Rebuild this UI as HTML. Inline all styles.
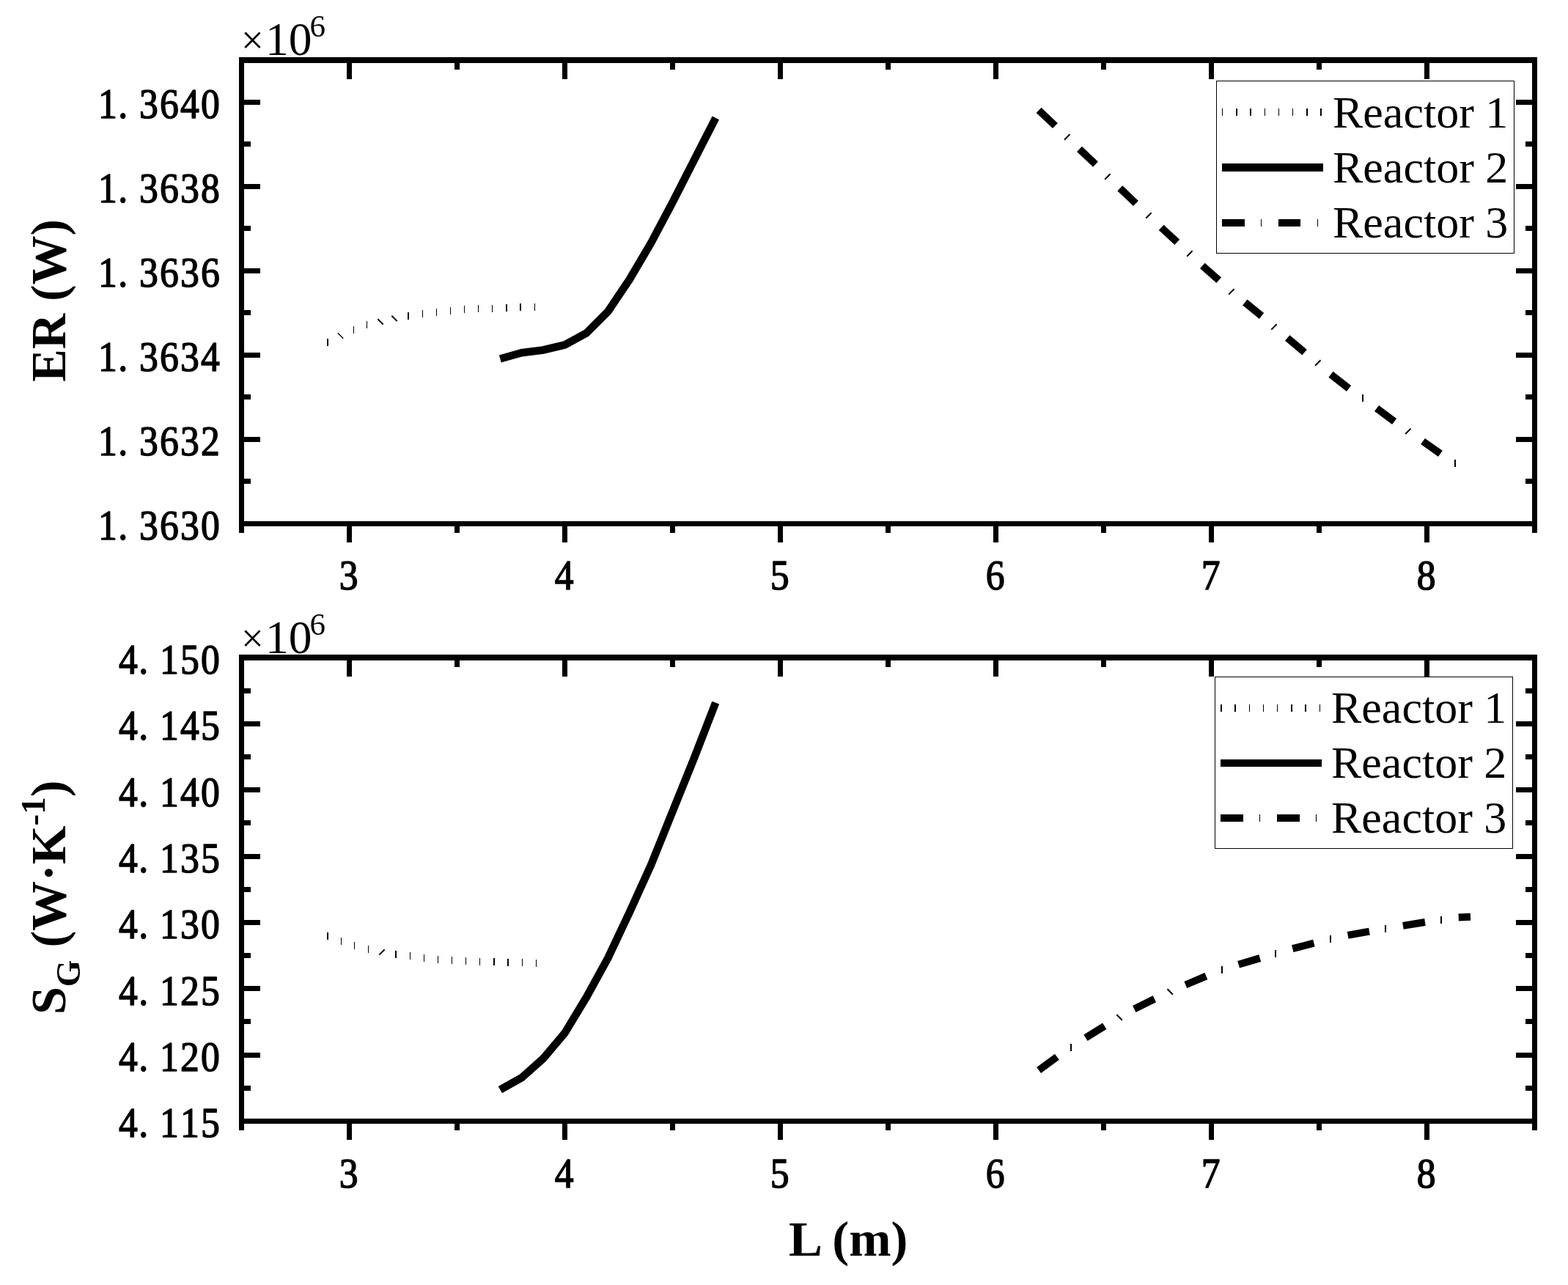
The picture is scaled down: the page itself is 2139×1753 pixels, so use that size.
<!DOCTYPE html>
<html lang="en"><head><meta charset="utf-8">
<title>ER and S_G versus L for Reactor 1, 2 and 3</title>
<style>
html,body{margin:0;padding:0;background:#fff}
body{width:2139px;height:1753px}
svg{display:block}
text{font-family:"Liberation Serif","DejaVu Serif",serif;fill:#000;white-space:pre}
.tk{font-size:58px;stroke:#000;stroke-width:1.5px;stroke-linejoin:round}
.lg{font-size:62px}
.ax{font-size:68px;font-weight:bold}
.ex{font-size:62px}
</style></head><body>
<svg width="2139" height="1753" viewBox="0 0 2139 1753">
<rect x="0" y="0" width="2139" height="1753" fill="#fff"/>
<g fill="#000">
<rect x="446" y="462" width="2" height="10" shape-rendering="crispEdges"/>
<line x1="460.8" y1="454.3" x2="468.2" y2="461.7" stroke="#000" stroke-width="1.4"/>
<rect x="482" y="445" width="1" height="10" shape-rendering="crispEdges"/>
<rect x="500" y="438" width="1" height="10" shape-rendering="crispEdges"/>
<line x1="515.3" y1="435.2" x2="522.7" y2="442.6" stroke="#000" stroke-width="2.0"/>
<line x1="534.3" y1="430.7" x2="541.7" y2="438.1" stroke="#000" stroke-width="2.0"/>
<rect x="556" y="426" width="2" height="10" shape-rendering="crispEdges"/>
<rect x="576" y="423" width="1" height="10" shape-rendering="crispEdges"/>
<rect x="595" y="421" width="1" height="10" shape-rendering="crispEdges"/>
<rect x="614" y="419" width="1" height="10" shape-rendering="crispEdges"/>
<rect x="633" y="417" width="1" height="10" shape-rendering="crispEdges"/>
<rect x="652" y="416" width="1" height="10" shape-rendering="crispEdges"/>
<rect x="671" y="416" width="1" height="10" shape-rendering="crispEdges"/>
<rect x="690" y="415" width="2" height="10" shape-rendering="crispEdges"/>
<rect x="709" y="414" width="2" height="10" shape-rendering="crispEdges"/>
<rect x="729" y="414" width="1" height="10" shape-rendering="crispEdges"/>
<polyline points="682.3,489.5 711.7,481.2 741.1,477.5 770.5,470.4 799.9,454.5 829.3,425.0 858.7,381.3 888.1,331.5 917.5,276.0 946.9,218.4 976.3,160.8" fill="none" stroke="#000" stroke-width="10.6" stroke-linejoin="miter"/>
<line x1="1417.1" y1="150.3" x2="1439.4" y2="171.5" stroke="#000" stroke-width="10"/>
<line x1="1472.5" y1="203.4" x2="1494.5" y2="224.2" stroke="#000" stroke-width="10"/>
<line x1="1527.8" y1="256.8" x2="1549.5" y2="277.5" stroke="#000" stroke-width="10"/>
<line x1="1584.1" y1="310.3" x2="1605.8" y2="330.4" stroke="#000" stroke-width="10"/>
<line x1="1640.3" y1="362.6" x2="1662.7" y2="382.3" stroke="#000" stroke-width="10"/>
<line x1="1698.3" y1="412.5" x2="1721.0" y2="431.0" stroke="#000" stroke-width="10"/>
<line x1="1756.2" y1="461.0" x2="1779.6" y2="480.7" stroke="#000" stroke-width="10"/>
<line x1="1815.5" y1="510.7" x2="1840.0" y2="530.0" stroke="#000" stroke-width="10"/>
<line x1="1878.0" y1="557.1" x2="1902.1" y2="574.9" stroke="#000" stroke-width="10"/>
<line x1="1941.0" y1="602.0" x2="1964.9" y2="618.9" stroke="#000" stroke-width="10"/>
<line x1="1452.0" y1="190.7" x2="1459.4" y2="183.3" stroke="#000" stroke-width="2.0"/>
<line x1="1507.2" y1="244.7" x2="1514.6" y2="237.3" stroke="#000" stroke-width="2.0"/>
<line x1="1563.2" y1="297.7" x2="1570.6" y2="290.3" stroke="#000" stroke-width="2.0"/>
<line x1="1619.2" y1="349.7" x2="1626.6" y2="342.3" stroke="#000" stroke-width="2.0"/>
<line x1="1676.2" y1="401.6" x2="1683.6" y2="394.2" stroke="#000" stroke-width="2.0"/>
<line x1="1734.3" y1="449.6" x2="1741.7" y2="442.2" stroke="#000" stroke-width="2.0"/>
<line x1="1794.1" y1="498.7" x2="1801.5" y2="491.3" stroke="#000" stroke-width="2.0"/>
<rect x="1858" y="538" width="2" height="10" shape-rendering="crispEdges"/>
<line x1="1917.2" y1="592.0" x2="1924.6" y2="584.6" stroke="#000" stroke-width="2.0"/>
<rect x="1984" y="627" width="2" height="10" shape-rendering="crispEdges"/>
<rect x="446" y="1272" width="2" height="10" shape-rendering="crispEdges"/>
<rect x="465" y="1279" width="1" height="10" shape-rendering="crispEdges"/>
<rect x="483" y="1285" width="1" height="10" shape-rendering="crispEdges"/>
<rect x="502" y="1290" width="1" height="10" shape-rendering="crispEdges"/>
<line x1="517.3" y1="1302.6" x2="524.7" y2="1295.2" stroke="#000" stroke-width="2.0"/>
<rect x="539" y="1297" width="2" height="10" shape-rendering="crispEdges"/>
<rect x="559" y="1299" width="1" height="10" shape-rendering="crispEdges"/>
<rect x="578" y="1302" width="1" height="10" shape-rendering="crispEdges"/>
<rect x="597" y="1304" width="1" height="10" shape-rendering="crispEdges"/>
<rect x="616" y="1305" width="1" height="10" shape-rendering="crispEdges"/>
<rect x="635" y="1306" width="1" height="10" shape-rendering="crispEdges"/>
<rect x="654" y="1307" width="1" height="10" shape-rendering="crispEdges"/>
<rect x="673" y="1307" width="2" height="10" shape-rendering="crispEdges"/>
<rect x="692" y="1308" width="2" height="10" shape-rendering="crispEdges"/>
<rect x="712" y="1308" width="1" height="10" shape-rendering="crispEdges"/>
<rect x="731" y="1309" width="1" height="10" shape-rendering="crispEdges"/>
<polyline points="682.3,1486.7 711.7,1470.2 741.1,1444.0 770.5,1409.2 799.9,1360.6 829.3,1307.0 858.7,1244.7 888.1,1180.0 917.5,1107.0 946.9,1034.3 976.2,958.6" fill="none" stroke="#000" stroke-width="10.6" stroke-linejoin="miter"/>
<line x1="1417.1" y1="1460.0" x2="1441.9" y2="1441.7" stroke="#000" stroke-width="10"/>
<line x1="1481.0" y1="1415.8" x2="1506.8" y2="1399.7" stroke="#000" stroke-width="10"/>
<line x1="1547.3" y1="1376.5" x2="1574.9" y2="1362.8" stroke="#000" stroke-width="10"/>
<line x1="1617.3" y1="1343.5" x2="1645.4" y2="1331.7" stroke="#000" stroke-width="10"/>
<line x1="1689.6" y1="1315.8" x2="1718.8" y2="1307.1" stroke="#000" stroke-width="10"/>
<line x1="1763.3" y1="1294.1" x2="1792.4" y2="1286.7" stroke="#000" stroke-width="10"/>
<line x1="1838.7" y1="1275.9" x2="1868.0" y2="1270.6" stroke="#000" stroke-width="10"/>
<line x1="1913.9" y1="1262.9" x2="1944.0" y2="1258.0" stroke="#000" stroke-width="10"/>
<line x1="1989.7" y1="1251.6" x2="2006.0" y2="1250.8" stroke="#000" stroke-width="10"/>
<rect x="1460" y="1424" width="2" height="10" shape-rendering="crispEdges"/>
<line x1="1523.4" y1="1384.3" x2="1530.8" y2="1391.7" stroke="#000" stroke-width="2.0"/>
<line x1="1592.5" y1="1349.3" x2="1599.9" y2="1356.7" stroke="#000" stroke-width="2.0"/>
<rect x="1666" y="1318" width="2" height="10" shape-rendering="crispEdges"/>
<rect x="1739" y="1296" width="2" height="10" shape-rendering="crispEdges"/>
<rect x="1814" y="1276" width="2" height="10" shape-rendering="crispEdges"/>
<rect x="1889" y="1262" width="2" height="10" shape-rendering="crispEdges"/>
<rect x="1965" y="1250" width="2" height="10" shape-rendering="crispEdges"/>
</g>
<g shape-rendering="crispEdges" fill="#000">
<rect x="326" y="78" width="7" height="649"/>
<rect x="2090" y="78" width="7" height="649"/>
<rect x="326" y="78" width="1771" height="8"/>
<rect x="326" y="711" width="1771" height="7"/>
<rect x="473" y="86" width="7" height="22"/>
<rect x="473" y="718" width="7" height="22"/>
<rect x="767" y="86" width="7" height="22"/>
<rect x="767" y="718" width="7" height="22"/>
<rect x="1061" y="86" width="7" height="22"/>
<rect x="1061" y="718" width="7" height="22"/>
<rect x="1355" y="86" width="7" height="22"/>
<rect x="1355" y="718" width="7" height="22"/>
<rect x="1649" y="86" width="7" height="22"/>
<rect x="1649" y="718" width="7" height="22"/>
<rect x="1943" y="86" width="7" height="22"/>
<rect x="1943" y="718" width="7" height="22"/>
<rect x="620" y="86" width="7" height="9"/>
<rect x="620" y="718" width="7" height="9"/>
<rect x="914" y="86" width="7" height="9"/>
<rect x="914" y="718" width="7" height="9"/>
<rect x="1208" y="86" width="7" height="9"/>
<rect x="1208" y="718" width="7" height="9"/>
<rect x="1502" y="86" width="7" height="9"/>
<rect x="1502" y="718" width="7" height="9"/>
<rect x="1796" y="86" width="7" height="9"/>
<rect x="1796" y="718" width="7" height="9"/>
<rect x="333" y="711" width="22" height="7"/>
<rect x="2068" y="711" width="22" height="7"/>
<rect x="333" y="596" width="22" height="7"/>
<rect x="2068" y="596" width="22" height="7"/>
<rect x="333" y="481" width="22" height="7"/>
<rect x="2068" y="481" width="22" height="7"/>
<rect x="333" y="366" width="22" height="7"/>
<rect x="2068" y="366" width="22" height="7"/>
<rect x="333" y="251" width="22" height="7"/>
<rect x="2068" y="251" width="22" height="7"/>
<rect x="333" y="136" width="22" height="7"/>
<rect x="2068" y="136" width="22" height="7"/>
<rect x="333" y="653" width="9" height="7"/>
<rect x="2081" y="653" width="9" height="7"/>
<rect x="333" y="538" width="9" height="7"/>
<rect x="2081" y="538" width="9" height="7"/>
<rect x="333" y="423" width="9" height="7"/>
<rect x="2081" y="423" width="9" height="7"/>
<rect x="333" y="308" width="9" height="7"/>
<rect x="2081" y="308" width="9" height="7"/>
<rect x="333" y="193" width="9" height="7"/>
<rect x="2081" y="193" width="9" height="7"/>
</g>
<g shape-rendering="crispEdges" fill="#000">
<rect x="326" y="893" width="7" height="649"/>
<rect x="2090" y="893" width="7" height="649"/>
<rect x="326" y="893" width="1771" height="8"/>
<rect x="326" y="1526" width="1771" height="7"/>
<rect x="473" y="901" width="7" height="22"/>
<rect x="473" y="1533" width="7" height="22"/>
<rect x="767" y="901" width="7" height="22"/>
<rect x="767" y="1533" width="7" height="22"/>
<rect x="1061" y="901" width="7" height="22"/>
<rect x="1061" y="1533" width="7" height="22"/>
<rect x="1355" y="901" width="7" height="22"/>
<rect x="1355" y="1533" width="7" height="22"/>
<rect x="1649" y="901" width="7" height="22"/>
<rect x="1649" y="1533" width="7" height="22"/>
<rect x="1943" y="901" width="7" height="22"/>
<rect x="1943" y="1533" width="7" height="22"/>
<rect x="620" y="901" width="7" height="9"/>
<rect x="620" y="1533" width="7" height="9"/>
<rect x="914" y="901" width="7" height="9"/>
<rect x="914" y="1533" width="7" height="9"/>
<rect x="1208" y="901" width="7" height="9"/>
<rect x="1208" y="1533" width="7" height="9"/>
<rect x="1502" y="901" width="7" height="9"/>
<rect x="1502" y="1533" width="7" height="9"/>
<rect x="1796" y="901" width="7" height="9"/>
<rect x="1796" y="1533" width="7" height="9"/>
<rect x="333" y="1526" width="22" height="7"/>
<rect x="2068" y="1526" width="22" height="7"/>
<rect x="333" y="1436" width="22" height="7"/>
<rect x="2068" y="1436" width="22" height="7"/>
<rect x="333" y="1345" width="22" height="7"/>
<rect x="2068" y="1345" width="22" height="7"/>
<rect x="333" y="1255" width="22" height="7"/>
<rect x="2068" y="1255" width="22" height="7"/>
<rect x="333" y="1165" width="22" height="7"/>
<rect x="2068" y="1165" width="22" height="7"/>
<rect x="333" y="1074" width="22" height="7"/>
<rect x="2068" y="1074" width="22" height="7"/>
<rect x="333" y="984" width="22" height="7"/>
<rect x="2068" y="984" width="22" height="7"/>
<rect x="333" y="894" width="22" height="7"/>
<rect x="2068" y="894" width="22" height="7"/>
<rect x="333" y="1481" width="9" height="7"/>
<rect x="2081" y="1481" width="9" height="7"/>
<rect x="333" y="1390" width="9" height="7"/>
<rect x="2081" y="1390" width="9" height="7"/>
<rect x="333" y="1300" width="9" height="7"/>
<rect x="2081" y="1300" width="9" height="7"/>
<rect x="333" y="1210" width="9" height="7"/>
<rect x="2081" y="1210" width="9" height="7"/>
<rect x="333" y="1119" width="9" height="7"/>
<rect x="2081" y="1119" width="9" height="7"/>
<rect x="333" y="1029" width="9" height="7"/>
<rect x="2081" y="1029" width="9" height="7"/>
<rect x="333" y="939" width="9" height="7"/>
<rect x="2081" y="939" width="9" height="7"/>
</g>
<text class="tk" transform="scale(0.89,1)" x="164.94 188.54 227.87 259.33 290.79 322.25" y="736.5" text-anchor="middle">1.3630</text>
<text class="tk" transform="scale(0.89,1)" x="164.94 188.54 227.87 259.33 290.79 322.25" y="621.5" text-anchor="middle">1.3632</text>
<text class="tk" transform="scale(0.89,1)" x="164.94 188.54 227.87 259.33 290.79 322.25" y="506.5" text-anchor="middle">1.3634</text>
<text class="tk" transform="scale(0.89,1)" x="164.94 188.54 227.87 259.33 290.79 322.25" y="391.5" text-anchor="middle">1.3636</text>
<text class="tk" transform="scale(0.89,1)" x="164.94 188.54 227.87 259.33 290.79 322.25" y="276.5" text-anchor="middle">1.3638</text>
<text class="tk" transform="scale(0.89,1)" x="164.94 188.54 227.87 259.33 290.79 322.25" y="161.5" text-anchor="middle">1.3640</text>
<text class="tk" transform="scale(0.89,1)" x="196.40 220.00 259.33 290.79 322.25" y="1551.5" text-anchor="middle">4.115</text>
<text class="tk" transform="scale(0.89,1)" x="196.40 220.00 259.33 290.79 322.25" y="1461.14" text-anchor="middle">4.120</text>
<text class="tk" transform="scale(0.89,1)" x="196.40 220.00 259.33 290.79 322.25" y="1370.79" text-anchor="middle">4.125</text>
<text class="tk" transform="scale(0.89,1)" x="196.40 220.00 259.33 290.79 322.25" y="1280.43" text-anchor="middle">4.130</text>
<text class="tk" transform="scale(0.89,1)" x="196.40 220.00 259.33 290.79 322.25" y="1190.07" text-anchor="middle">4.135</text>
<text class="tk" transform="scale(0.89,1)" x="196.40 220.00 259.33 290.79 322.25" y="1099.71" text-anchor="middle">4.140</text>
<text class="tk" transform="scale(0.89,1)" x="196.40 220.00 259.33 290.79 322.25" y="1009.36" text-anchor="middle">4.145</text>
<text class="tk" transform="scale(0.89,1)" x="196.40 220.00 259.33 290.79 322.25" y="919" text-anchor="middle">4.150</text>
<text class="tk" transform="scale(0.89,1)" x="534.38" y="804.5" text-anchor="middle">3</text>
<text class="tk" transform="scale(0.89,1)" x="534.38" y="1620.5" text-anchor="middle">3</text>
<text class="tk" transform="scale(0.89,1)" x="864.72" y="804.5" text-anchor="middle">4</text>
<text class="tk" transform="scale(0.89,1)" x="864.72" y="1620.5" text-anchor="middle">4</text>
<text class="tk" transform="scale(0.89,1)" x="1195.06" y="804.5" text-anchor="middle">5</text>
<text class="tk" transform="scale(0.89,1)" x="1195.06" y="1620.5" text-anchor="middle">5</text>
<text class="tk" transform="scale(0.89,1)" x="1525.39" y="804.5" text-anchor="middle">6</text>
<text class="tk" transform="scale(0.89,1)" x="1525.39" y="1620.5" text-anchor="middle">6</text>
<text class="tk" transform="scale(0.89,1)" x="1855.73" y="804.5" text-anchor="middle">7</text>
<text class="tk" transform="scale(0.89,1)" x="1855.73" y="1620.5" text-anchor="middle">7</text>
<text class="tk" transform="scale(0.89,1)" x="2186.07" y="804.5" text-anchor="middle">8</text>
<text class="tk" transform="scale(0.89,1)" x="2186.07" y="1620.5" text-anchor="middle">8</text>
<text class="ex"><tspan x="329" y="73" style="font-size:54.5px">×</tspan><tspan x="362" y="75.3" style="font-size:63.5px">10</tspan><tspan x="422.5" y="49.5" style="font-size:43px">6</tspan></text>
<text class="ex"><tspan x="329" y="889" style="font-size:54.5px">×</tspan><tspan x="362" y="891.3" style="font-size:63.5px">10</tspan><tspan x="422.5" y="865.5" style="font-size:43px">6</tspan></text>
<g transform="translate(1659,110)">
<rect x="0.5" y="0.5" width="406" height="235" fill="#fff" stroke="#000" stroke-width="1" shape-rendering="crispEdges"/>
<g fill="#000" shape-rendering="crispEdges">
<rect x="8" y="38" width="1" height="10"/>
<rect x="27" y="38" width="2" height="10"/>
<rect x="46" y="38" width="2" height="10"/>
<rect x="66" y="38" width="1" height="10"/>
<rect x="85" y="38" width="1" height="10"/>
<rect x="104" y="38" width="1" height="10"/>
<rect x="123" y="38" width="2" height="10"/>
<rect x="142" y="38" width="2" height="10"/>
<rect x="8" y="113" width="138" height="11"/>
<rect x="8" y="189" width="31" height="10"/>
<rect x="61" y="189" width="1" height="10"/>
<rect x="85" y="189" width="30" height="10"/>
<rect x="138" y="189" width="1" height="10"/>
</g>
<text class="lg" x="159" y="63.9">Reactor 1</text>
<text class="lg" x="159" y="138.7">Reactor 2</text>
<text class="lg" x="159" y="213.6">Reactor 3</text>
</g>
<g transform="translate(1657,923)">
<rect x="0.5" y="0.5" width="406" height="234" fill="#fff" stroke="#000" stroke-width="1" shape-rendering="crispEdges"/>
<g fill="#000" shape-rendering="crispEdges">
<rect x="8" y="38" width="2" height="10"/>
<rect x="27" y="38" width="2" height="10"/>
<rect x="47" y="38" width="1" height="10"/>
<rect x="66" y="38" width="1" height="10"/>
<rect x="85" y="38" width="1" height="10"/>
<rect x="104" y="38" width="2" height="10"/>
<rect x="123" y="38" width="2" height="10"/>
<rect x="143" y="38" width="1" height="10"/>
<rect x="8" y="113" width="138" height="10"/>
<rect x="8" y="188" width="31" height="10"/>
<rect x="61" y="188" width="1" height="10"/>
<rect x="85" y="188" width="31" height="10"/>
<rect x="138" y="188" width="1" height="10"/>
</g>
<text class="lg" x="159" y="62.9">Reactor 1</text>
<text class="lg" x="159" y="137.9">Reactor 2</text>
<text class="lg" x="159" y="212.9">Reactor 3</text>
</g>
<text class="ax" transform="translate(89.2,521) rotate(-90)" textLength="221.9" lengthAdjust="spacingAndGlyphs">ER (W)</text>
<text class="ax" transform="translate(89.3,1384) rotate(-90)">S<tspan dy="19.4" style="font-size:47px">G</tspan><tspan dy="-19.4"> (W·K</tspan><tspan dy="-28.8" style="font-size:47px">-1</tspan><tspan dy="28.8">)</tspan></text>
<text class="ax" x="1076" y="1713" textLength="162.5" lengthAdjust="spacingAndGlyphs">L (m)</text>
</svg></body></html>
